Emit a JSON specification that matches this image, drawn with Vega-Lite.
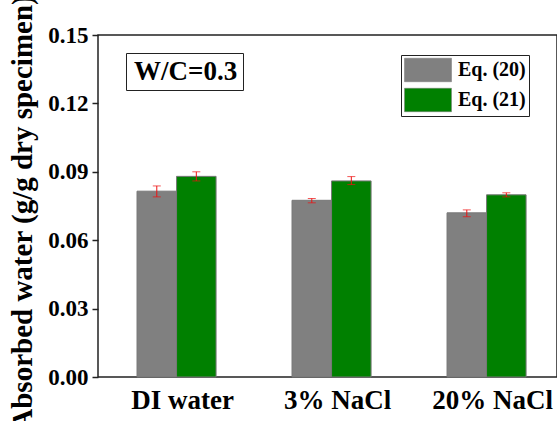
{
  "$schema": "https://vega.github.io/schema/vega-lite/v6.json",
  "width": 459,
  "height": 342,
  "autosize": {"type": "none"},
  "padding": {"left": 98, "top": 35, "right": 0, "bottom": 44},
  "background": "white",
  "config": {
    "font": "Liberation Serif",
    "axis": {"labelFont": "Liberation Serif", "titleFont": "Liberation Serif"},
    "legend": {"labelFont": "Liberation Serif", "titleFont": "Liberation Serif"},
    "view": {"stroke": "#222", "strokeWidth": 1.5}
  },
  "data": {
    "values": [
      {"condition": "DI water", "eq": "Eq. (20)", "value": 0.0815, "lo": 0.0790, "hi": 0.0838},
      {"condition": "DI water", "eq": "Eq. (21)", "value": 0.0880, "lo": 0.0860, "hi": 0.0900},
      {"condition": "3% NaCl", "eq": "Eq. (20)", "value": 0.0775, "lo": 0.0764, "hi": 0.0783},
      {"condition": "3% NaCl", "eq": "Eq. (21)", "value": 0.0860, "lo": 0.0844, "hi": 0.0879},
      {"condition": "20% NaCl", "eq": "Eq. (20)", "value": 0.0720, "lo": 0.0703, "hi": 0.0733},
      {"condition": "20% NaCl", "eq": "Eq. (21)", "value": 0.0799, "lo": 0.0790, "hi": 0.0808}
    ]
  },
  "encoding": {
    "x": {
      "field": "condition",
      "type": "nominal",
      "sort": ["DI water", "3% NaCl", "20% NaCl"],
      "scale": {"paddingInner": 0.49, "paddingOuter": 0.2256, "align": 0.558},
      "axis": {
        "title": null,
        "labelAngle": 0,
        "domain": false,
        "ticks": false,
        "labelFont": "Liberation Serif",
        "labelFontSize": 27,
        "labelFontWeight": "bold",
        "labelColor": "#000",
        "labelPadding": 10,
        "labelOffset": 6
      }
    },
    "xOffset": {
      "field": "eq",
      "type": "nominal",
      "scale": {"paddingInner": 0, "paddingOuter": 0}
    }
  },
  "layer": [
    {
      "mark": {"type": "bar", "stroke": "#777", "strokeWidth": 1},
      "encoding": {
        "y": {
          "field": "value",
          "type": "quantitative",
          "scale": {"domain": [0, 0.15], "nice": false},
          "axis": {
            "title": "Absorbed water (g/g dry specimen)",
            "titleFont": "Liberation Serif",
            "titleFontSize": 29,
            "titleFontWeight": "bold",
            "titleColor": "#000",
            "titlePadding": 10,
            "titleY": 177,
            "values": [0, 0.015, 0.03, 0.045, 0.06, 0.075, 0.09, 0.105, 0.12, 0.135, 0.15],
            "format": ".2f",
            "labelExpr": "(round(datum.value*1000) % 30 == 0) ? datum.label : ''",
            "labelFont": "Liberation Serif",
            "labelFontSize": 23,
            "labelFontWeight": "bold",
            "labelColor": "#000",
            "labelPadding": 4,
            "grid": false,
            "domain": false,
            "tickColor": "#222",
            "tickWidth": 1.5,
            "tickSize": {"condition": {"test": "round(datum.value*1000) % 30 == 0", "value": 6}, "value": 3}
          }
        },
        "color": {
          "field": "eq",
          "type": "nominal",
          "scale": {"domain": ["Eq. (20)", "Eq. (21)"], "range": ["#808080", "#008000"]},
          "legend": {
            "title": null,
            "orient": "none",
            "legendX": 303,
            "legendY": 20,
            "strokeColor": "#222",
            "padding": 3,
            "fillColor": "white",
            "symbolType": "M-2,-1H2V1H-2Z",
            "symbolSize": 552,
            "symbolOffset": 12,
            "symbolStrokeColor": "#777",
            "symbolStrokeWidth": 0.5,
            "symbolOpacity": 1,
            "labelFont": "Liberation Serif",
            "labelFontSize": 20,
            "labelFontWeight": "bold",
            "labelColor": "#000",
            "labelOffset": 18,
            "rowPadding": 4
          }
        }
      }
    },
    {
      "mark": {"type": "rule", "color": "#ee1111", "strokeWidth": 1},
      "encoding": {
        "y": {"field": "lo", "type": "quantitative"},
        "y2": {"field": "hi"}
      }
    },
    {
      "mark": {"type": "tick", "color": "#ee1111", "size": 8, "thickness": 1},
      "encoding": {"y": {"field": "lo", "type": "quantitative"}}
    },
    {
      "mark": {"type": "tick", "color": "#ee1111", "size": 8, "thickness": 1},
      "encoding": {"y": {"field": "hi", "type": "quantitative"}}
    },
    {
      "mark": {"type": "point", "opacity": 0},
      "encoding": {
        "y": {"field": "value", "type": "quantitative"},
        "shape": {
          "datum": "W/C=0.3",
          "legend": {
            "title": null,
            "orient": "none",
            "legendX": 28,
            "legendY": 18,
            "strokeColor": "#222",
            "padding": 5,
            "fillColor": "white",
            "symbolSize": 0,
            "symbolOpacity": 0,
            "symbolStrokeWidth": 0,
            "labelOffset": -24,
            "labelFont": "Liberation Serif",
            "labelFontSize": 27,
            "labelFontWeight": "bold",
            "labelColor": "#000"
          }
        }
      }
    }
  ]
}
